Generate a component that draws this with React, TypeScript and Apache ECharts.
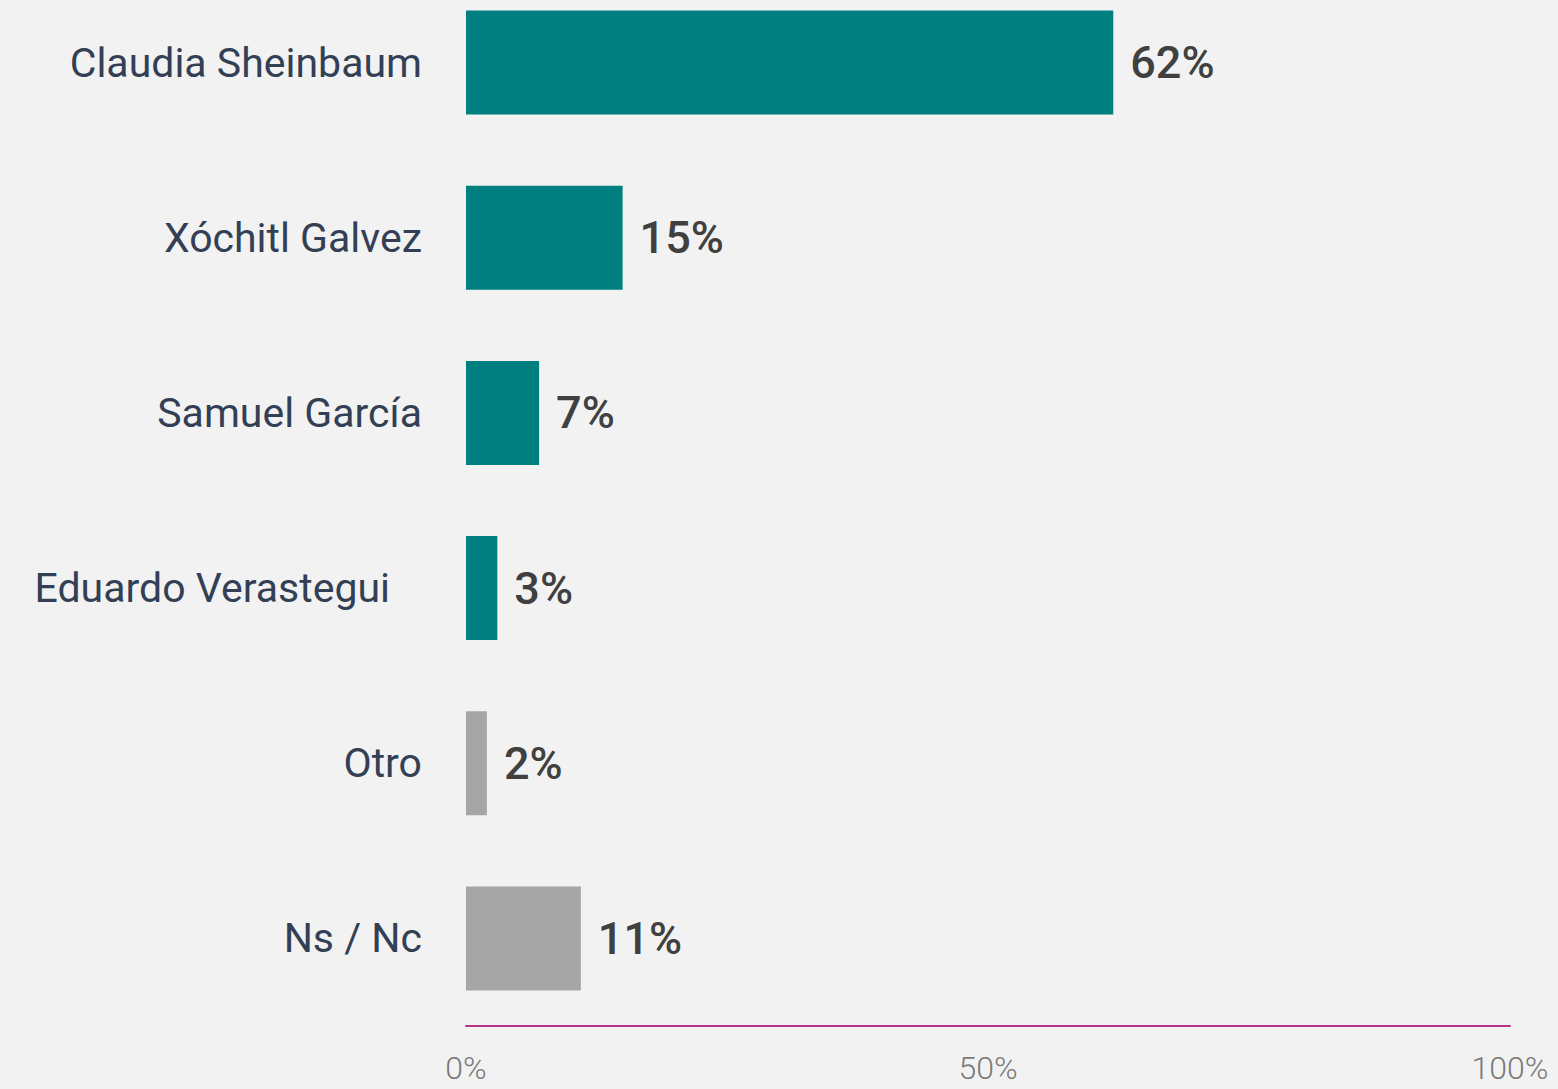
import React, { useEffect, useRef } from "react";
import * as echarts from "echarts";

const categories = [
  "Claudia Sheinbaum",
  "Xóchitl Galvez",
  "Samuel García",
  "Eduardo Verastegui",
  "Otro",
  "Ns / Nc",
];
const values = [62, 15, 7, 3, 2, 11];
const barColors = ["#007f80", "#007f80", "#007f80", "#007f80", "#a6a6a6", "#a6a6a6"];
const xTicks = [0, 50, 100];

export default function App() {
  const ref = useRef<HTMLDivElement>(null);
  useEffect(() => {
    document.body.style.margin = "0";
    document.body.style.background = "#f2f2f2";
    const chart = echarts.init(ref.current!, null, { renderer: "svg" });
    chart.setOption({
      animation: false,
      backgroundColor: "#f2f2f2",
      grid: { left: 466, right: 48, top: 0, bottom: 63 },
      xAxis: {
        type: "value",
        min: xTicks[0],
        max: xTicks[xTicks.length - 1],
        interval: 50,
        splitLine: { show: false },
        axisTick: { show: false },
        axisLine: { show: true, lineStyle: { color: "#b5338a", width: 2 } },
        axisLabel: {
          formatter: "{value}%",
          color: "#7a7a7a",
          fontSize: 32,
          lineHeight: 32,
          fontFamily: "Roboto",
          fontWeight: 300,
          margin: 26,
        },
      },
      yAxis: {
        type: "category",
        inverse: true,
        data: categories.map((c) =>
          c === "Eduardo Verastegui"
            ? { value: c, textStyle: { padding: [0, 32, 0, 0] } }
            : c
        ),
        axisLine: { show: false },
        axisTick: { show: false },
        axisLabel: {
          color: "#333f55",
          fontSize: 41,
          fontFamily: "Roboto",
          fontWeight: 400,
          margin: 44,
        },
      },
      series: [
        {
          type: "bar",
          barWidth: 104,
          data: values.map((v, i) => ({ value: v, itemStyle: { color: barColors[i] } })),
          label: {
            show: true,
            position: "right",
            distance: 17,
            formatter: "{c}%",
            color: "#404040",
            fontSize: 45,
            fontFamily: "Roboto",
            fontWeight: 500,
          },
        },
      ],
    });
    return () => chart.dispose();
  }, []);
  return (
    <div
      ref={ref}
      style={{ position: "absolute", left: 0, top: -25, width: 1558, height: 1114 }}
    />
  );
}
